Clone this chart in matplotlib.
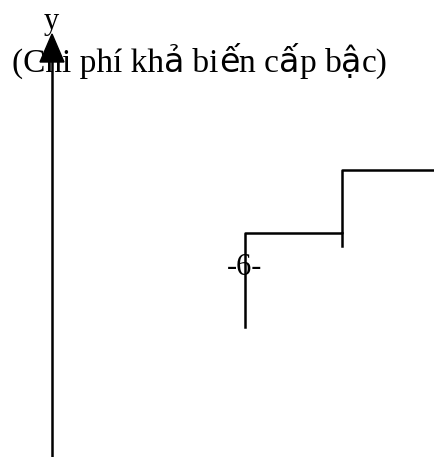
import matplotlib.pyplot as plt
from matplotlib.patches import Polygon

# diagram data (drawn in a 434 x 457 unit space, y grows downward)
step_x = [245, 342, 434]      # x where each step level starts / ends
step_y = [327, 233, 170]      # base of first riser, then the two levels
tick_drop = 246               # small tick under the second riser
axis_x = 52
axis_y = [457, 60]
arrow_tip = 34
title = "(Chi phí khả biến cấp bậc)"
axis_name = "y"
step_label = "-6-"
# these letters show up in a sans fallback face in the original
sans_chars = "ảếấậ"

fig = plt.figure(figsize=(4.34, 4.57), dpi=100)
ax = fig.add_axes([0, 0, 1, 1])
ax.set_xlim(0, 434)
ax.set_ylim(457, 0)
ax.axis('off')

# vertical axis with arrow head (sits on top of the title text)
ax.plot([axis_x, axis_x], axis_y, color='black', lw=1.8, solid_capstyle='butt', zorder=5)
ax.add_patch(Polygon([[axis_x - 12, axis_y[1] + 2], [axis_x + 12, axis_y[1] + 2],
                      [axis_x, arrow_tip]], closed=True, color='black', zorder=5))

# step cost line
xs = [step_x[0], step_x[0], step_x[1], step_x[1], step_x[2]]
ys = [step_y[0], step_y[1], step_y[1], step_y[2], step_y[2]]
ax.plot(xs, ys, color='black', lw=1.8)
ax.plot([step_x[1], step_x[1]], [step_y[1], tick_drop], color='black', lw=1.8)

serif = 'Liberation Serif'
ax.text(axis_x - 1, 29, axis_name, fontsize=22, family=serif, ha='center', va='baseline')
ax.text(step_x[0], 275, step_label, fontsize=22, family=serif, ha='center', va='baseline')

# title in runs, switching face for the fallback letters
runs = []
for ch in title:
    is_sans = ch in sans_chars
    if runs and runs[-1][1] == is_sans:
        runs[-1][0] += ch
    else:
        runs.append([ch, is_sans])

renderer = fig.canvas.get_renderer()
x = 12
for txt, is_sans in runs:
    t = ax.text(x, 72, txt, fontsize=24, ha='left', va='baseline',
                family='DejaVu Sans' if is_sans else serif)
    bb = t.get_window_extent(renderer).transformed(ax.transData.inverted())
    x = bb.x1

fig.savefig('out.png', dpi=100)
